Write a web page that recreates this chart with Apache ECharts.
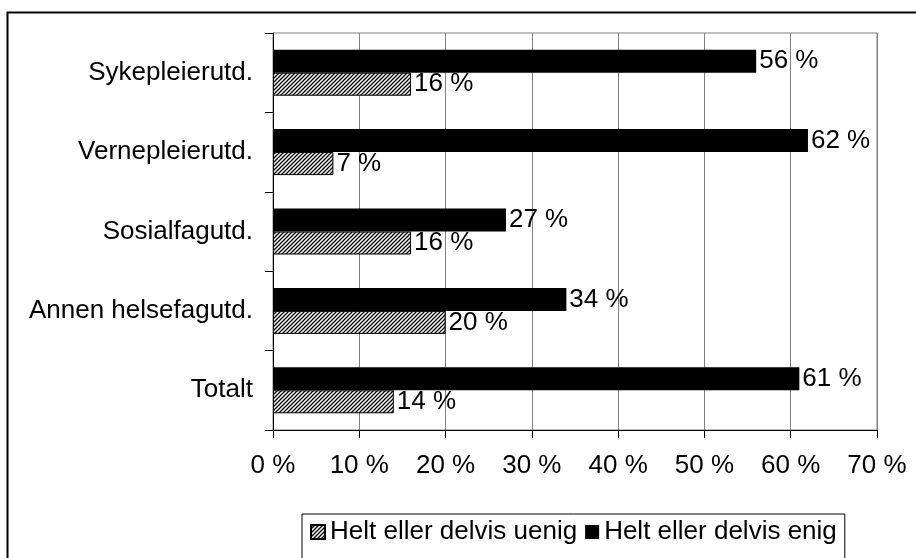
<!DOCTYPE html>
<html>
<head>
<meta charset="utf-8">
<script src="https://cdn.jsdelivr.net/npm/echarts@6/dist/echarts.min.js"></script>
<style>
html,body{margin:0;padding:0;background:#fff;}
#chart{width:916px;height:558px;}
</style>
</head>
<body>
<div id="chart"></div>
<script>
// Categories listed bottom-to-top
var categories = ['Totalt', 'Annen helsefagutd.', 'Sosialfagutd.', 'Vernepleierutd.', 'Sykepleierutd.'];
var seriesNames = ['Helt eller delvis uenig', 'Helt eller delvis enig'];
var uenig = [14, 20, 16, 7, 16];
var enig = [61, 34, 27, 62, 56];
var xTicks = [0, 10, 20, 30, 40, 50, 60, 70];

function makeHatch() {
  var c = document.createElement('canvas');
  c.width = 4; c.height = 4;
  var ctx = c.getContext('2d');
  ctx.fillStyle = '#fff';
  ctx.fillRect(0, 0, 4, 4);
  ctx.strokeStyle = '#000';
  ctx.lineWidth = 1.3;
  ctx.beginPath();
  ctx.moveTo(-1, 5); ctx.lineTo(5, -1);
  ctx.moveTo(-1, 1); ctx.lineTo(1, -1);
  ctx.moveTo(3, 5); ctx.lineTo(5, 3);
  ctx.stroke();
  return c;
}
var hatch = makeHatch();
var FONT = "'Liberation Sans', Arial, sans-serif";
var FS = 26;

var chart = echarts.init(document.getElementById('chart'), null, {renderer: 'canvas'});
chart.setOption({
  animation: false,
  backgroundColor: '#fff',
  textStyle: {fontFamily: FONT},
  graphic: [{
    type: 'rect',
    shape: {x: 7.5, y: 12.5, width: 1000, height: 1000},
    style: {fill: 'none', stroke: '#000', lineWidth: 2},
    silent: true
  }],
  grid: {
    left: 273, right: 39, top: 33, bottom: 128,
    show: true, borderColor: '#808080', borderWidth: 1
  },
  legend: {
    left: 302, top: 514,
    data: seriesNames,
    icon: 'rect',
    itemWidth: 14, itemHeight: 14, itemGap: 8,
    textStyle: {fontSize: FS, color: '#000', fontFamily: FONT},
    borderColor: '#000', borderWidth: 1,
    padding: [5, 8, 30, 8]
  },
  xAxis: {
    type: 'value',
    min: xTicks[0], max: xTicks[xTicks.length - 1], interval: 10,
    axisLine: {show: true, lineStyle: {color: '#000', width: 1}},
    axisTick: {show: true, length: 8, lineStyle: {color: '#000'}},
    axisLabel: {
      margin: 23, fontSize: FS, color: '#000', fontFamily: FONT,
      formatter: function (v) { return v + ' %'; }
    },
    splitLine: {show: true, lineStyle: {color: '#808080', width: 1}}
  },
  yAxis: {
    type: 'category',
    data: categories,
    axisLine: {show: true, lineStyle: {color: '#000', width: 1}},
    axisTick: {show: true, length: 8, lineStyle: {color: '#000'}},
    axisLabel: {margin: 20, fontSize: FS, color: '#000', fontFamily: FONT, padding: [0, 0, 7, 0]},
    splitLine: {show: false}
  },
  series: [
    {
      name: seriesNames[1], type: 'bar', data: enig,
      barWidth: 23, barGap: '0%',
      itemStyle: {color: '#000'},
      label: {show: true, position: 'right', distance: 3, fontSize: FS, color: '#000', fontFamily: FONT,
        formatter: function (p) { return p.value + ' %'; }}
    },
    {
      name: seriesNames[0], type: 'bar', data: uenig,
      barWidth: 23, barGap: '0%',
      itemStyle: {color: {image: hatch, repeat: 'repeat'}, borderColor: '#000', borderWidth: 1},
      label: {show: true, position: 'right', distance: 3, fontSize: FS, color: '#000', fontFamily: FONT,
        formatter: function (p) { return p.value + ' %'; }}
    }
  ]
});
</script>
</body>
</html>
